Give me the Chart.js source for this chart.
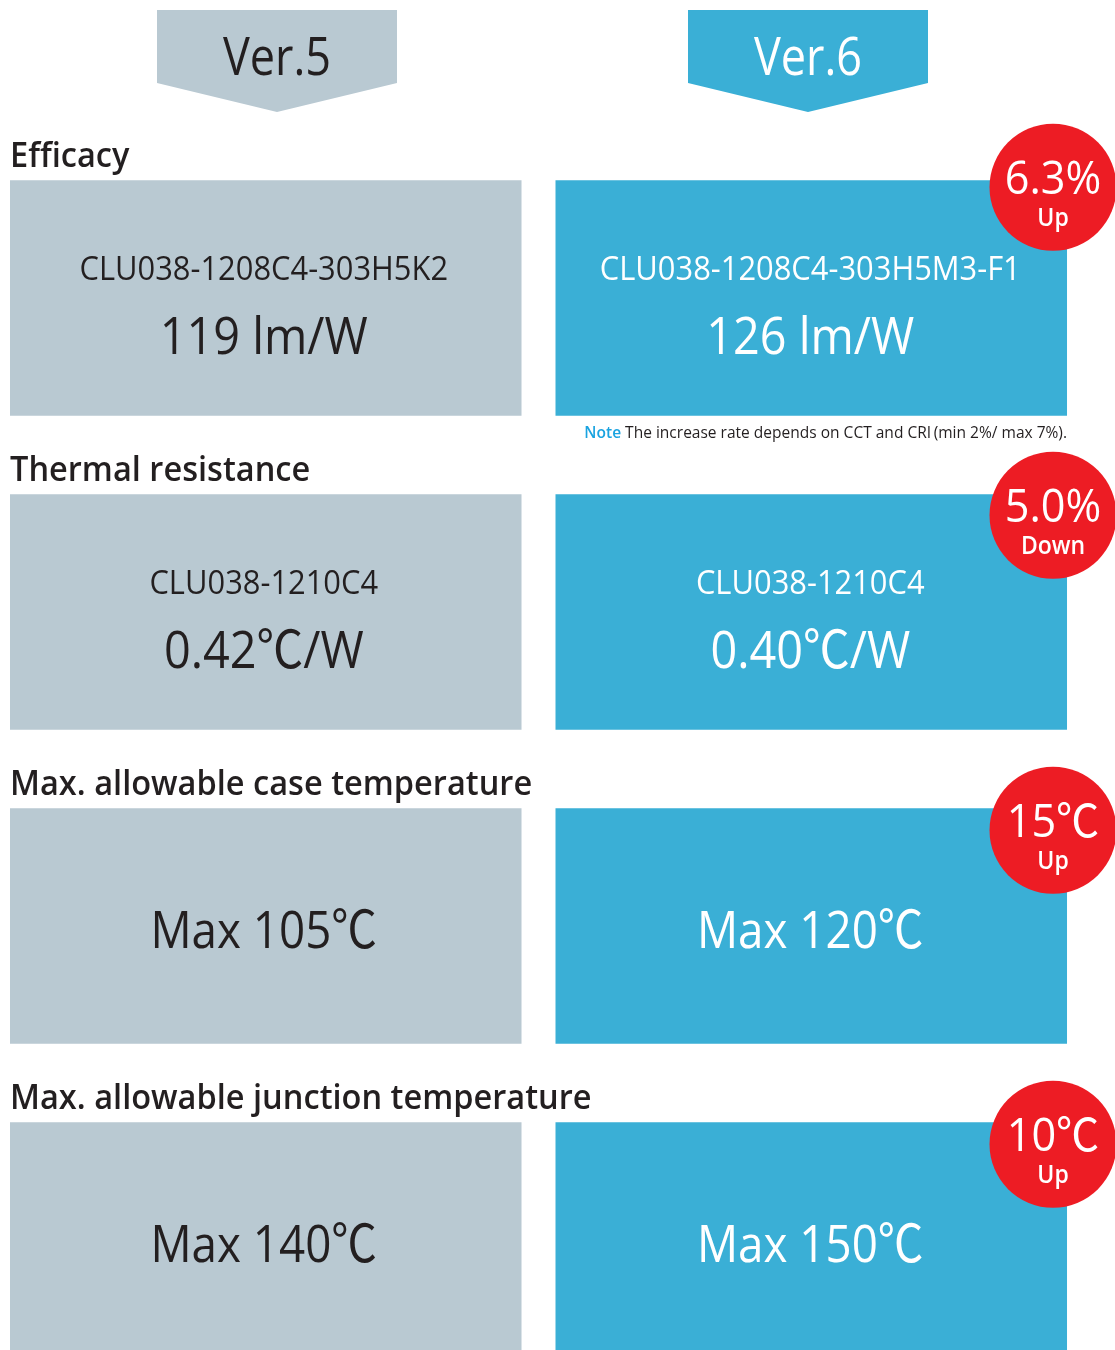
<!DOCTYPE html>
<html>
<head>
<meta charset="utf-8">
<script src="https://cdn.jsdelivr.net/npm/chart.js@4"></script>
<style>
  html, body { margin: 0; padding: 0; background: #fff; overflow: hidden; }
  canvas { display: block; }
</style>
</head>
<body>
<canvas id="compareChart" width="1115" height="1400"></canvas>
<script>
// data
const versions = ["Ver.5", "Ver.6"];
const metrics = [
  "Efficacy",
  "Thermal resistance",
  "Max. allowable case temperature",
  "Max. allowable junction temperature",
];
const ver5Models = ["CLU038-1208C4-303H5K2", "CLU038-1210C4", "", ""];
const ver6Models = ["CLU038-1208C4-303H5M3-F1", "CLU038-1210C4", "", ""];
const ver5Values = ["119", "0.42", "105", "140"];
const ver6Values = ["126", "0.40", "120", "150"];
const valuePrefix = ["", "", "Max ", "Max "];
const valueUnits = [" lm/W", "℃/W", "℃", "℃"];
const changeLabels = ["6.3%", "5.0%", "15℃", "10℃"];
const changeDirs = ["Up", "Down", "Up", "Up"];
const noteText = "The increase rate depends on CCT and CRI\u2009(min 2%/ max 7%).";

const GRAY = "#b9c9d2";
const BLUE = "#3aafd6";
const RED = "#ed1c24";
const DARK = "#231f20";
const FONT = "'Open Sans', 'Noto Sans CJK JP', sans-serif";

// each box spans most of its column, the rest is the gap
const cellFill = 0.9377;

function drawText(ctx, s, x, y, font, color, align, sx) {
  ctx.save();
  ctx.font = font;
  ctx.fillStyle = color;
  ctx.textAlign = "left";
  ctx.textBaseline = "alphabetic";
  const w = ctx.measureText(s).width * sx;
  const left = align === "center" ? x - w / 2 : align === "right" ? x - w : x;
  ctx.translate(left, y);
  ctx.scale(sx, 1);
  ctx.fillText(s, 0, 0);
  ctx.restore();
}

function drawArrow(ctx, cx, label, fill, color) {
  ctx.save();
  ctx.fillStyle = fill;
  ctx.beginPath();
  ctx.moveTo(cx - 120, 10);
  ctx.lineTo(cx + 120, 10);
  ctx.lineTo(cx + 120, 83);
  ctx.lineTo(cx, 112);
  ctx.lineTo(cx - 120, 83);
  ctx.closePath();
  ctx.fill();
  ctx.restore();
  drawText(ctx, label, cx, 75, "400 53px " + FONT, color, "center", 0.85);
}

const infoPlugin = {
  id: "infoPlugin",
  afterDatasetsDraw(chart) {
    const ctx = chart.ctx;
    const m5 = chart.getDatasetMeta(0).data;
    const m6 = chart.getDatasetMeta(1).data;

    drawArrow(ctx, 277, versions[0], GRAY, DARK);
    drawArrow(ctx, 808, versions[1], BLUE, "#ffffff");

    const badgeDy = [7, 21, 22, 22];

    metrics.forEach((name, i) => {
      const b5 = m5[i];
      const b6 = m6[i];
      const top = b5.y - b5.height / 2;
      const cy = b5.y;

      // heading
      drawText(ctx, name, 10, top - 13, "600 35px " + FONT, DARK, "left", 0.93);

      [[b5, ver5Models, ver5Values, DARK, -2], [b6, ver6Models, ver6Values, "#ffffff", -1]].forEach(
        ([bar, models, values, color, dx]) => {
          const cx = (bar.x + bar.base) / 2 + dx;
          const valueText = valuePrefix[i] + values[i] + valueUnits[i];
          if (models[i]) {
            drawText(ctx, models[i], cx, cy - 18, "400 32px " + FONT, color, "center", 0.965);
            drawText(ctx, valueText, cx, cy + 56, "400 52px " + FONT, color, "center", 0.9);
          } else {
            drawText(ctx, valueText, cx, cy + 22, "400 52px " + FONT, color, "center", 0.88);
          }
        }
      );

      // red badge
      const bx = b6.x - 14;
      const by = top + badgeDy[i];
      ctx.save();
      ctx.fillStyle = RED;
      ctx.beginPath();
      ctx.arc(bx, by, 63.5, 0, Math.PI * 2);
      ctx.fill();
      ctx.restore();
      drawText(ctx, changeLabels[i], bx, by + 7, "400 46px " + FONT, "#ffffff", "center", 0.94);
      drawText(ctx, changeDirs[i], bx, by + 39, "600 25px " + FONT, "#ffffff", "center", 0.92);

      if (i === 0) {
        const noteY = b6.y + b6.height / 2 + 22;
        const sx = 0.97;
        ctx.save();
        ctx.font = "400 16px " + FONT;
        const wRest = ctx.measureText(noteText).width * sx;
        ctx.font = "600 16px " + FONT;
        const wNote = ctx.measureText("Note ").width * sx;
        ctx.restore();
        const right = b6.x;
        drawText(ctx, "Note ", right - wRest - wNote, noteY, "600 16px " + FONT, "#1aa3e0", "left", sx);
        drawText(ctx, noteText, right - wRest, noteY, "400 16px " + FONT, DARK, "left", sx);
      }
    });
  },
};

new Chart(document.getElementById("compareChart").getContext("2d"), {
  type: "bar",
  data: {
    labels: metrics,
    datasets: [
      {
        label: versions[0],
        data: metrics.map(() => [0, cellFill]),
        backgroundColor: GRAY,
        borderWidth: 0,
      },
      {
        label: versions[1],
        data: metrics.map(() => [1, 1 + cellFill]),
        backgroundColor: BLUE,
        borderWidth: 0,
      },
    ],
  },
  options: {
    responsive: false,
    animation: false,
    indexAxis: "y",
    layout: { padding: { top: 141, bottom: 3, left: 10, right: 14 } },
    datasets: { bar: { grouped: false, categoryPercentage: 1, barPercentage: 0.75 } },
    scales: {
      x: { type: "linear", min: 0, max: 2, display: false },
      y: { type: "category", display: false },
    },
    plugins: {
      legend: { display: false },
      tooltip: { enabled: false },
    },
  },
  plugins: [infoPlugin],
});
</script>
</body>
</html>
